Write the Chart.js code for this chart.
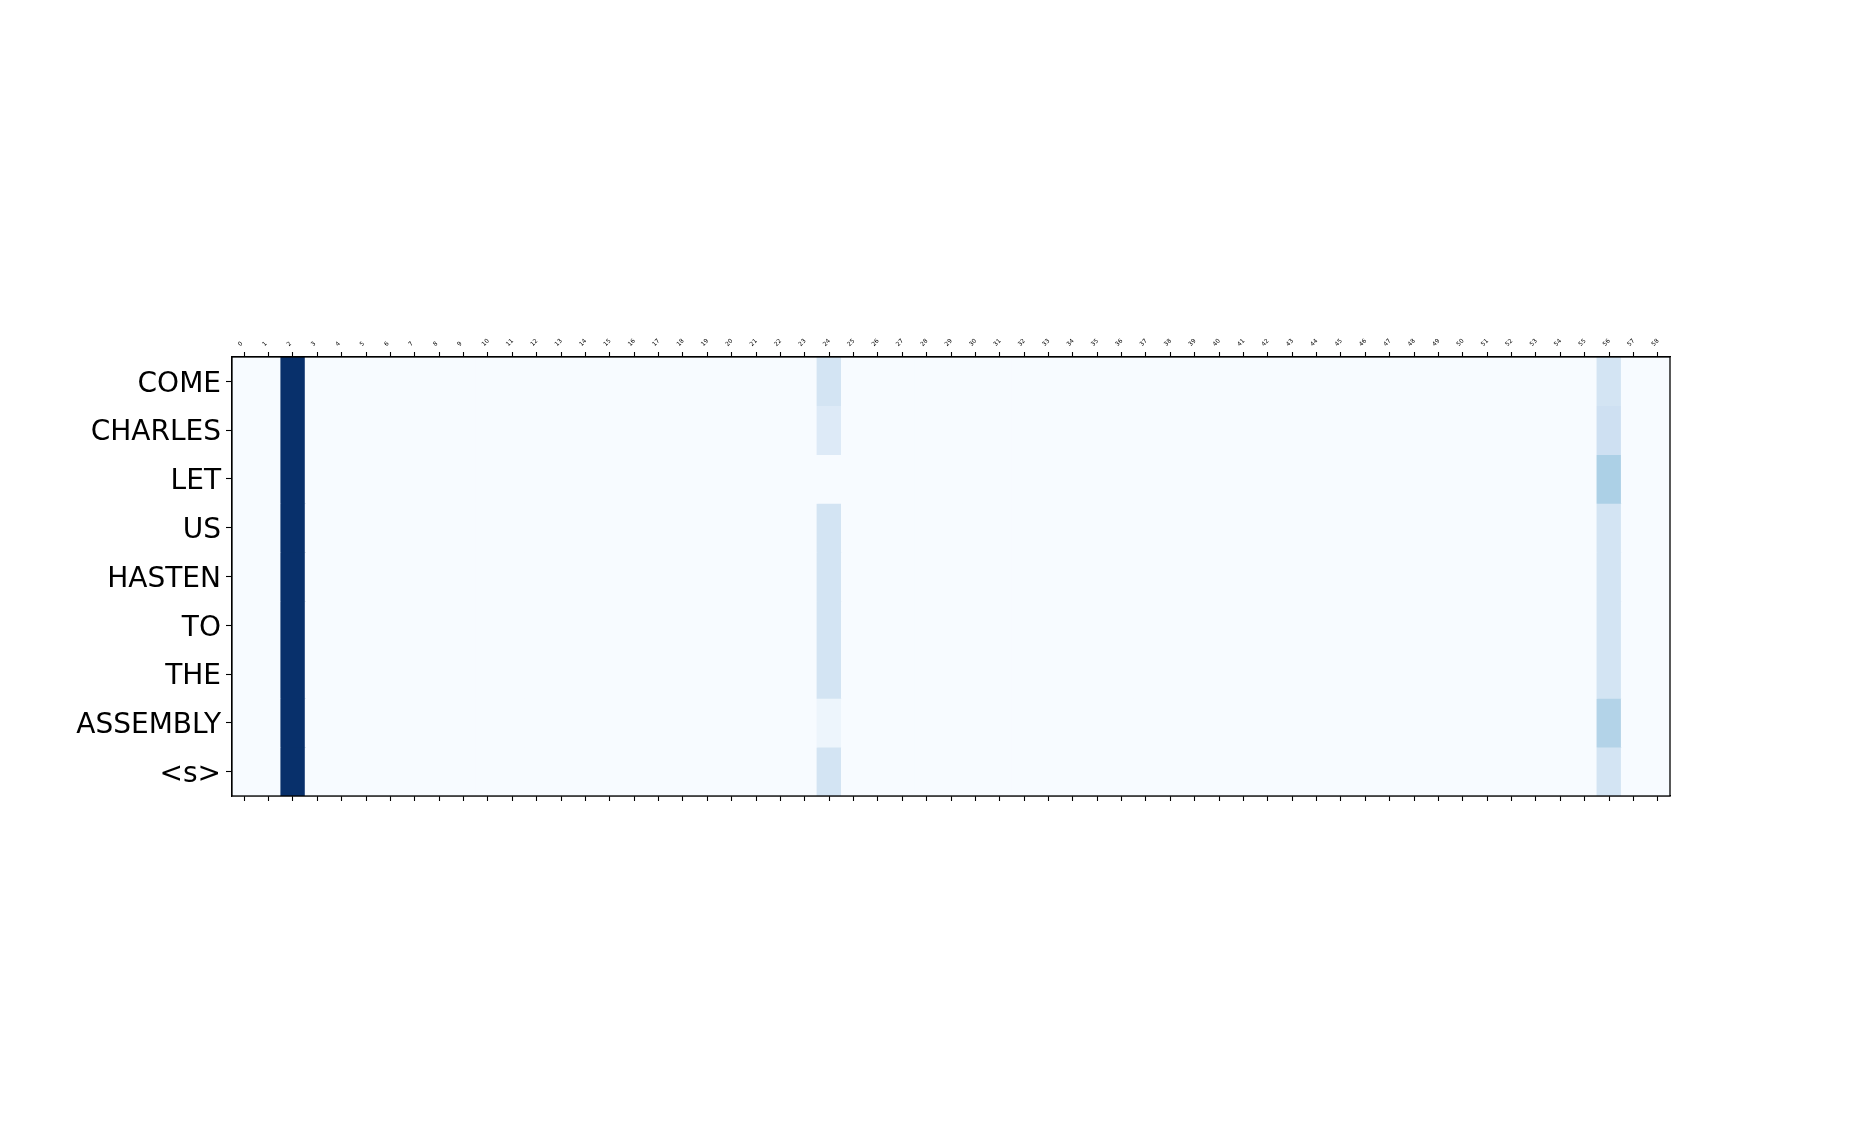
<!DOCTYPE html>
<html>
<head>
<meta charset="utf-8">
<title>Attention heatmap</title>
<script src="https://cdn.jsdelivr.net/npm/chart.js@4/dist/chart.umd.min.js"></script>
<style>
  html, body { margin: 0; padding: 0; background: #fff; }
  #wrap { width: 1855px; height: 1142px; position: relative; }
</style>
</head>
<body>
<div id="wrap"><canvas id="heatmap"></canvas></div>
<script>
// rows (output tokens) top to bottom
const rowLabels = ['COME', 'CHARLES', 'LET', 'US', 'HASTEN', 'TO', 'THE', 'ASSEMBLY', '<s>'];

// input positions along the top
const colLabels = ['0','1','2','3','4','5','6','7','8','9','10','11','12','13','14','15','16','17','18','19',
  '20','21','22','23','24','25','26','27','28','29','30','31','32','33','34','35','36','37','38','39',
  '40','41','42','43','44','45','46','47','48','49','50','51','52','53','54','55','56','57','58'];

// weights (relative to max) for the only columns that carry any colour, one per row
const col2Values  = [1.00, 1.00, 1.00, 1.00, 1.00, 1.00, 1.00, 1.00, 1.00];
const col24Values = [0.18, 0.13, 0.00, 0.18, 0.18, 0.18, 0.18, 0.05, 0.18];
const col56Values = [0.18, 0.21, 0.33, 0.18, 0.18, 0.18, 0.18, 0.31, 0.18];

// matplotlib "Blues"
const blues = [[247,251,255],[222,235,247],[198,219,239],[158,202,225],[107,174,214],
               [66,146,198],[33,113,181],[8,81,156],[8,48,107]];

function bluesColor(t) {
  t = Math.max(0, Math.min(1, t));
  const pos = t * (blues.length - 1);
  const i = Math.min(Math.floor(pos), blues.length - 2);
  const f = pos - i;
  const c = blues[i].map((v, k) => Math.round(v + (blues[i + 1][k] - v) * f));
  return `rgb(${c[0]},${c[1]},${c[2]})`;
}

function cellValue(r, c) {
  if (c === 2) return col2Values[r];
  if (c === 24) return col24Values[r];
  if (c === 56) return col56Values[r];
  return 0;
}

const vmax = Math.max(...col2Values, ...col24Values, ...col56Values);

// one stacked dataset per row, each cell one unit tall
const datasets = rowLabels.map((name, r) => {
  const colors = colLabels.map((_, c) => bluesColor(cellValue(r, c) / vmax));
  return {
    label: name,
    data: colLabels.map(() => 1),
    backgroundColor: colors,
    borderColor: colors,
    borderWidth: 0,
    barPercentage: 1,
    categoryPercentage: 1
  };
});

// paint the lowest colour under the cells so seams don't show, then a frame
const framePlugin = {
  id: 'frame',
  beforeDatasetsDraw(chart) {
    const { ctx, chartArea: a } = chart;
    ctx.save();
    ctx.fillStyle = bluesColor(0);
    ctx.fillRect(a.left, a.top, a.right - a.left, a.bottom - a.top);
    ctx.restore();
  },
  afterDatasetsDraw(chart) {
    const { ctx, chartArea: a } = chart;
    ctx.save();
    ctx.strokeStyle = '#000';
    ctx.lineWidth = 1.3;
    ctx.strokeRect(a.left, a.top, a.right - a.left, a.bottom - a.top);
    ctx.restore();
  }
};

const tickGrid = (len) => ({
  drawOnChartArea: false,
  offset: false,
  color: '#000',
  tickLength: len,
  tickWidth: 1.1
});

new Chart(document.getElementById('heatmap'), {
  type: 'bar',
  data: { labels: colLabels, datasets },
  plugins: [framePlugin],
  options: {
    responsive: true,
    maintainAspectRatio: false,
    animation: false,
    layout: { padding: { left: 0, top: 0, right: 185, bottom: 0 } },
    plugins: { legend: { display: false }, tooltip: { enabled: false } },
    scales: {
      x: {
        type: 'category',
        position: 'top',
        stacked: true,
        grid: tickGrid(5),
        border: { color: '#000', width: 1.3 },
        ticks: {
          autoSkip: false,
          minRotation: 45,
          maxRotation: 45,
          padding: 4,
          color: '#000',
          font: { family: 'DejaVu Sans', size: 6 }
        },
        afterFit: (s) => { s.height = 357; }
      },
      x2: {
        type: 'category',
        position: 'bottom',
        labels: colLabels,
        grid: tickGrid(5),
        border: { color: '#000', width: 1.3 },
        ticks: { autoSkip: false, maxRotation: 0, callback: () => '' },
        afterFit: (s) => { s.height = 346; }
      },
      y: {
        type: 'linear',
        stacked: true,
        reverse: true,
        min: 0,
        max: rowLabels.length,
        grid: tickGrid(6),
        border: { color: '#000', width: 1.3 },
        afterBuildTicks: (s) => { s.ticks = rowLabels.map((_, i) => ({ value: i + 0.5 })); },
        ticks: {
          padding: 5,
          labelOffset: 3,
          color: '#000',
          font: { family: 'DejaVu Sans', size: 28 },
          callback: (v) => rowLabels[Math.floor(v)]
        },
        afterFit: (s) => { s.width = 232; }
      }
    }
  }
});
</script>
</body>
</html>
